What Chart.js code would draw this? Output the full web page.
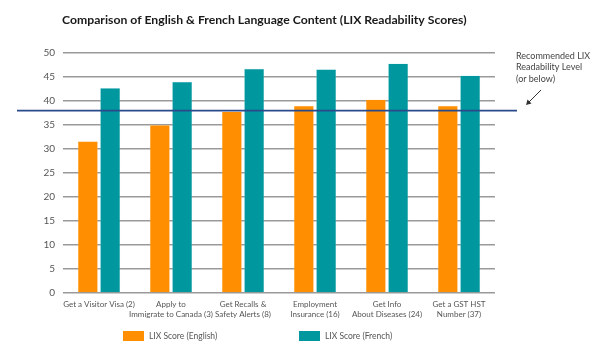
<!DOCTYPE html>
<html>
<head>
<meta charset="utf-8">
<script src="https://cdn.jsdelivr.net/npm/chart.js@4/dist/chart.umd.min.js"></script>
<style>
  html, body { margin: 0; padding: 0; background: #fff; }
  #wrap { width: 600px; height: 353px; position: relative; }
</style>
</head>
<body>
<div id="wrap"><canvas id="c" width="600" height="353"></canvas></div>
<script>
const categories = [
  "Get a Visitor Visa (2)",
  ["Apply to", "Immigrate to Canada (3)"],
  ["Get Recalls &", "Safety Alerts (8)"],
  ["Employment", "Insurance (16)"],
  ["Get Info", "About Diseases (24)"],
  ["Get a GST HST", "Number (37)"]
];
const englishScores = [31.6, 35.0, 37.8, 39.0, 40.3, 39.0];
const frenchScores = [42.7, 44.0, 46.7, 46.6, 47.8, 45.3];
const seriesNames = ["LIX Score (English)", "LIX Score (French)"];
const yTicks = [0, 5, 10, 15, 20, 25, 30, 35, 40, 45, 50];
const recommendedLevel = 38;
const titleText = "Comparison of English & French Language Content (LIX Readability Scores)";
const noteLines = ["Recommended LIX", "Readability Level", "(or below)"];

const ORANGE = "#FF8F00";
const TEAL = "#00979F";
const FONT = "Lato, 'Open Sans', sans-serif";

const extras = {
  id: "extras",
  afterDatasetsDraw(chart) {
    const ctx = chart.ctx;
    const y = chart.scales.y;
    const py = y.getPixelForValue(recommendedLevel);
    ctx.save();
    // reference line
    ctx.strokeStyle = "#2B4A8B";
    ctx.lineWidth = 1.8;
    ctx.beginPath();
    ctx.moveTo(17, py);
    ctx.lineTo(517, py);
    ctx.stroke();

    // title
    ctx.fillStyle = "#1a1a1a";
    let size = 14;
    ctx.font = "bold " + size + "px " + FONT;
    const w = ctx.measureText(titleText).width;
    size = size * 405 / w;
    ctx.font = "bold " + size.toFixed(2) + "px " + FONT;
    ctx.textBaseline = "middle";
    ctx.textAlign = "left";
    ctx.fillText(titleText, 62, 20);

    // note
    ctx.fillStyle = "#444";
    ctx.font = "9px " + FONT;
    noteLines.forEach((t, i) => ctx.fillText(t, 516, 56 + i * 11.5));

    // arrow
    ctx.strokeStyle = "#333";
    ctx.lineWidth = 1;
    ctx.beginPath();
    ctx.moveTo(541, 90);
    ctx.lineTo(527, 104);
    ctx.stroke();
    ctx.fillStyle = "#333";
    ctx.beginPath();
    ctx.moveTo(526, 105);
    ctx.lineTo(527.5, 99.5);
    ctx.lineTo(531.5, 103.5);
    ctx.closePath();
    ctx.fill();

    // legend
    const items = [[123, ORANGE, seriesNames[0]], [299, TEAL, seriesNames[1]]];
    ctx.font = "8.5px " + FONT;
    items.forEach(([x, col, name]) => {
      ctx.fillStyle = col;
      ctx.fillRect(x, 331, 21, 10);
      ctx.fillStyle = "#555";
      ctx.fillText(name, x + 26, 336.5);
    });
    ctx.restore();
  }
};

new Chart(document.getElementById("c"), {
  type: "bar",
  data: {
    labels: categories,
    datasets: [
      { label: seriesNames[0], data: englishScores, backgroundColor: ORANGE, borderColor: "rgba(255,220,170,0.8)", borderWidth: 0.5 },
      { label: seriesNames[1], data: frenchScores, backgroundColor: TEAL, borderColor: "rgba(170,230,235,0.8)", borderWidth: 0.5 }
    ]
  },
  options: {
    responsive: false,
    animation: false,
    devicePixelRatio: 1,
    layout: { padding: { left: 0, right: 105, top: 53, bottom: 0 } },
    datasets: { bar: { categoryPercentage: 0.62, barPercentage: 0.9 } },
    plugins: { legend: { display: false }, title: { display: false }, tooltip: { enabled: false } },
    scales: {
      x: {
        grid: { display: false, drawTicks: false },
        border: { display: false },
        ticks: { color: "#555", font: { family: FONT, size: 8 }, padding: 7, maxRotation: 0, autoSkip: false },
        afterFit(s) { s.height = 60; }
      },
      y: {
        min: 0, max: 50,
        afterBuildTicks(s) { s.ticks = yTicks.map(v => ({ value: v })); },
        grid: { color: "#9a9a9a", lineWidth: 1.5, drawTicks: false },
        border: { display: false },
        ticks: { color: "#555", font: { family: FONT, size: 10 }, padding: 8 },
        afterFit(s) { s.width = 63; }
      }
    }
  },
  plugins: [extras]
});
</script>
</body>
</html>
